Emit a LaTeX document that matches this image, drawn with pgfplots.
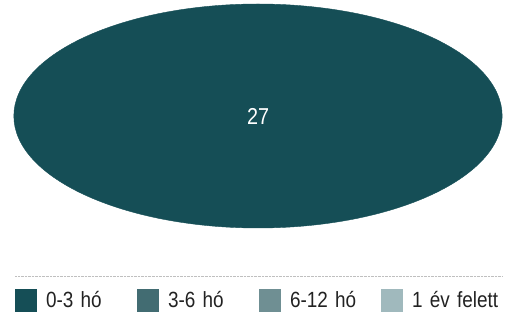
\documentclass[border=0pt]{standalone}
\usepackage{pgfplots}
\pgfplotsset{compat=1.18}
\usepackage{fontspec}
\setmainfont[FakeStretch=0.86]{Liberation Sans}
\definecolor{c1}{HTML}{154E56}
\definecolor{c2}{HTML}{426C72}
\definecolor{c3}{HTML}{6F8F93}
\definecolor{c4}{HTML}{A0B9BD}
\definecolor{txt}{HTML}{222222}
\begin{document}
\begin{tikzpicture}
\begin{axis}[
  width=507bp, height=312bp, scale only axis,
  xmin=0, xmax=507, ymin=0, ymax=312,
  axis lines=none, ticks=none, clip=false,
  legend columns=4,
  legend style={at={(axis cs:15,11.5)}, anchor=west, draw=none, fill=none,
    inner sep=0pt, outer sep=0pt, font=\fontsize{22bp}{26bp}\selectfont\color{txt},
    nodes={inner sep=0pt, outer sep=0pt},
    /tikz/every odd column/.append style={column sep=9bp},
    /tikz/every even column/.append style={column sep=0bp, text width=91bp},
  },
  legend cell align=left,
  legend image code/.code={\fill[#1, draw=none] (0bp,-11bp) rectangle (22bp,11bp);},
]
\path (axis cs:0,0) (axis cs:507,312);
% single pie slice: 27 (100%)
\addplot[forget plot, only marks, color=c1, mark=*, mark size=112bp,
  mark options={color=c1, draw=none, fill=c1, xscale=2.18},
  nodes near coords={27}, nodes near coords align={center},
  every node near coord/.append style={text=white, anchor=center, font=\fontsize{23bp}{27bp}\selectfont}]
  coordinates {(258,196)};
\addlegendimage{color=c1, fill=c1}
\addlegendentry{0-3 hó}
\addlegendimage{color=c2, fill=c2}
\addlegendentry{3-6 hó}
\addlegendimage{color=c3, fill=c3}
\addlegendentry{6-12 hó}
\addlegendimage{color=c4, fill=c4}
\addlegendentry{1 év felett}
\draw[gray!50, densely dotted] (axis cs:15,36) -- (axis cs:502,36);
\end{axis}
\end{tikzpicture}
\end{document}
